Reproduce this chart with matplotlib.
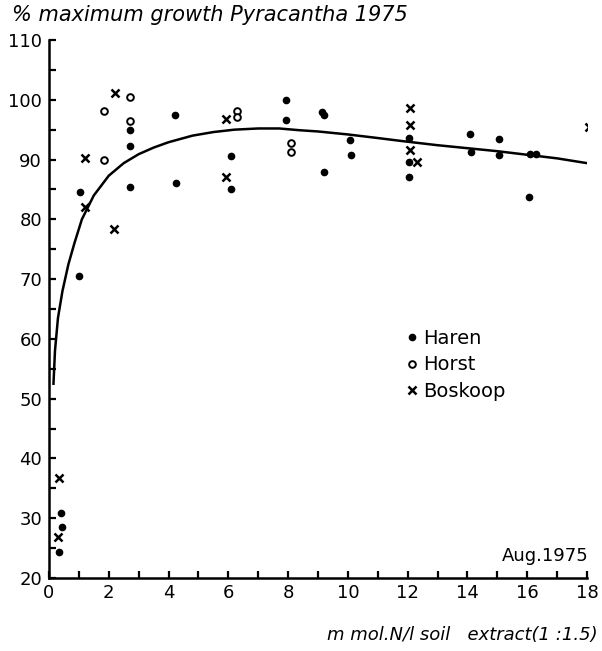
import matplotlib
matplotlib.use("Agg")
import matplotlib.pyplot as plt
from matplotlib.ticker import MultipleLocator

# --- data ---
haren_x = [0.33, 0.40, 0.43, 1.0, 1.05, 2.7, 2.7, 2.7, 4.2, 4.25, 6.09, 6.09,
           7.93, 7.93, 9.13, 9.2, 9.2, 10.07, 10.1, 12.05, 12.05, 12.05,
           14.08, 14.11, 15.05, 15.05, 16.1, 16.3, 16.05]
haren_y = [24.3, 30.9, 28.5, 70.5, 84.5, 95.0, 92.2, 85.4, 97.4, 86.0, 90.6, 85.0,
           100.0, 96.6, 98.0, 97.5, 87.9, 93.2, 90.7, 93.6, 89.6, 87.1,
           94.2, 91.2, 93.4, 90.7, 90.9, 90.9, 83.7]

horst_x = [1.85, 1.85, 2.7, 2.7, 6.29, 6.29, 8.09, 8.09]
horst_y = [98.2, 90.0, 100.4, 96.5, 98.1, 97.2, 92.7, 91.2]

boskoop_x = [0.30, 0.33, 1.2, 1.2, 2.17, 2.2, 5.92, 5.92,
             12.07, 12.07, 12.07, 12.3, 18.06]
boskoop_y = [26.9, 36.7, 90.2, 82.0, 78.4, 101.2, 96.8, 87.1,
             98.6, 95.75, 91.6, 89.6, 95.4]

curve_x = [0.15, 0.2, 0.3, 0.45, 0.65, 0.85, 1.1, 1.5, 2.0, 2.5, 3.0, 3.5, 4.0,
           4.8, 5.5, 6.2, 7.0, 7.7, 8.4, 9.0, 10.0, 11.0, 11.8, 13.0, 14.0,
           15.0, 16.0, 17.0, 18.0]
curve_y = [52.5, 58.0, 63.5, 68.0, 72.5, 76.0, 80.0, 84.0, 87.3, 89.4, 90.9, 92.0,
           92.9, 94.0, 94.6, 95.0, 95.2, 95.2, 94.9, 94.7, 94.2, 93.6, 93.1,
           92.4, 91.9, 91.4, 90.8, 90.2, 89.4]

x_ticks = [0, 2, 4, 6, 8, 10, 12, 14, 16, 18]
y_ticks = [20, 30, 40, 50, 60, 70, 80, 90, 100, 110]
leg_labels = ['Haren', 'Horst', 'Boskoop']

plt.rcParams['font.family'] = ['DejaVu Sans']

fig = plt.figure(figsize=(6.02, 6.51), dpi=100)
ax = fig.add_axes([49 / 602, (651 - 578) / 651, (587 - 49) / 602, (578 - 40) / 651])

ax.plot(curve_x, curve_y, color='black', lw=1.8, zorder=2)
ax.plot(haren_x, haren_y, 'o', color='black', ms=4.5, ls='none', zorder=3)
ax.plot(horst_x, horst_y, 'o', mfc='white', mec='black', mew=1.4, ms=4.8, ls='none', zorder=3)
ax.plot(boskoop_x, boskoop_y, 'x', color='black', mew=1.8, ms=5.5, ls='none', zorder=3)

ax.set_xlim(0, 18)
ax.set_ylim(20, 110)
ax.set_xticks(x_ticks)
ax.set_yticks(y_ticks)
ax.xaxis.set_minor_locator(MultipleLocator(1))
ax.yaxis.set_minor_locator(MultipleLocator(5))
ax.tick_params(axis='both', which='both', direction='in', width=1.6, color='black')
ax.tick_params(axis='both', which='major', length=5, labelsize=13)
ax.tick_params(axis='x', which='major', pad=4)
ax.tick_params(axis='y', which='major', pad=5)
ax.tick_params(axis='both', which='minor', length=5)
ax.tick_params(axis='x', which='both', top=False)
ax.tick_params(axis='y', which='both', right=False)
for s in ['top', 'right']:
    ax.spines[s].set_visible(False)
for s in ['left', 'bottom']:
    ax.spines[s].set_linewidth(1.8)

ax.legend(
    handles=[
        plt.Line2D([], [], marker='o', color='black', ls='none', ms=4.5),
        plt.Line2D([], [], marker='o', mfc='white', mec='black', mew=1.4, ls='none', ms=4.8),
        plt.Line2D([], [], marker='x', color='black', mew=1.8, ls='none', ms=5.5),
    ],
    labels=leg_labels, loc='upper left', bbox_to_anchor=(0.649, 0.478),
    frameon=False, fontsize=14, handlelength=0.6, handletextpad=0.3,
    labelspacing=0.4, borderaxespad=0)

fig.text(12 / 602, 1 - 15 / 651, '% maximum growth Pyracantha 1975', fontsize=15,
         style='italic', va='center', ha='left')
fig.text(589 / 602, 1 - 556 / 651, 'Aug.1975', fontsize=13, va='center', ha='right')
fig.text(598 / 602, 1 - 635 / 651, 'm mol.N/l soil   extract(1 :1.5)', fontsize=13,
         style='italic', va='center', ha='right')

fig.savefig('out.png', dpi=100)
